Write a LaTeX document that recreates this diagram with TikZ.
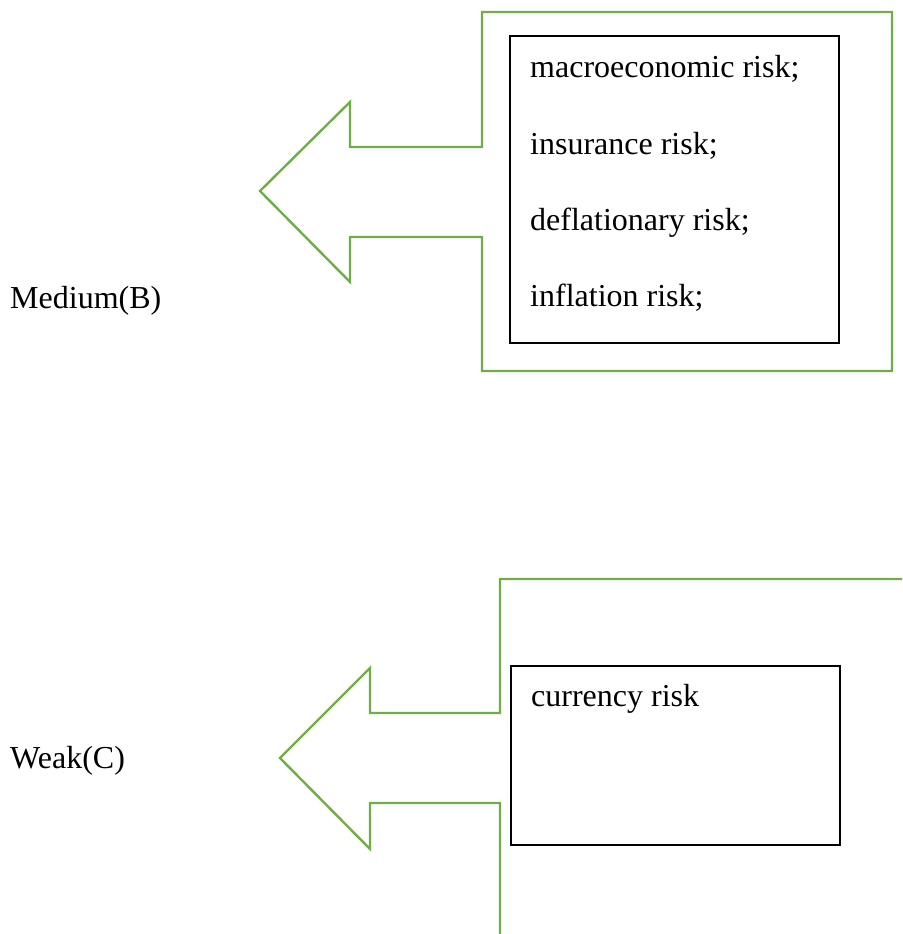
\documentclass[tikz,border=0pt]{standalone}
\usepackage{fontspec}
\setmainfont{Liberation Serif}
\definecolor{callgreen}{HTML}{70AD47}
\begin{document}
\begin{tikzpicture}[x=1pt,y=-1pt,
  callout/.style={draw=callgreen,line width=2.4pt,line join=miter},
  riskbox/.style={draw=black,line width=1.1pt},
  label/.style={anchor=base west,inner sep=0pt,font=\fontsize{32}{38}\selectfont}]
\useasboundingbox (0,0) rectangle (902,934);
% top callout
\draw[callout] (482,12) -- (892,12) -- (892,371) -- (482,371) -- (482,237) -- (350,237)
  -- (350,282) -- (260,191) -- (350,102) -- (350,147) -- (482,147) -- cycle;
\draw[riskbox] (510,36) rectangle (839,343);
\node[label] (macro) at (530,77.5) {macroeconomic risk;};
\node[label] (ins) at (530,154) {insurance risk;};
\node[label] (defl) at (530,230) {deflationary risk;};
\node[label] (infl) at (530,306.5) {inflation risk;};
\node[label] (medium) at (10,308.5) {Medium(B)};
% bottom callout
\draw[callout] (902,579) -- (500,579) -- (500,713) -- (370,713) -- (370,668) -- (280,758)
  -- (370,849) -- (370,803) -- (500,803) -- (500,934);
\draw[riskbox] (511,666) rectangle (840,845);
\node[label] (curr) at (531,706.5) {currency risk};
\node[label] (weak) at (10,768.5) {Weak(C)};
\end{tikzpicture}
\end{document}
